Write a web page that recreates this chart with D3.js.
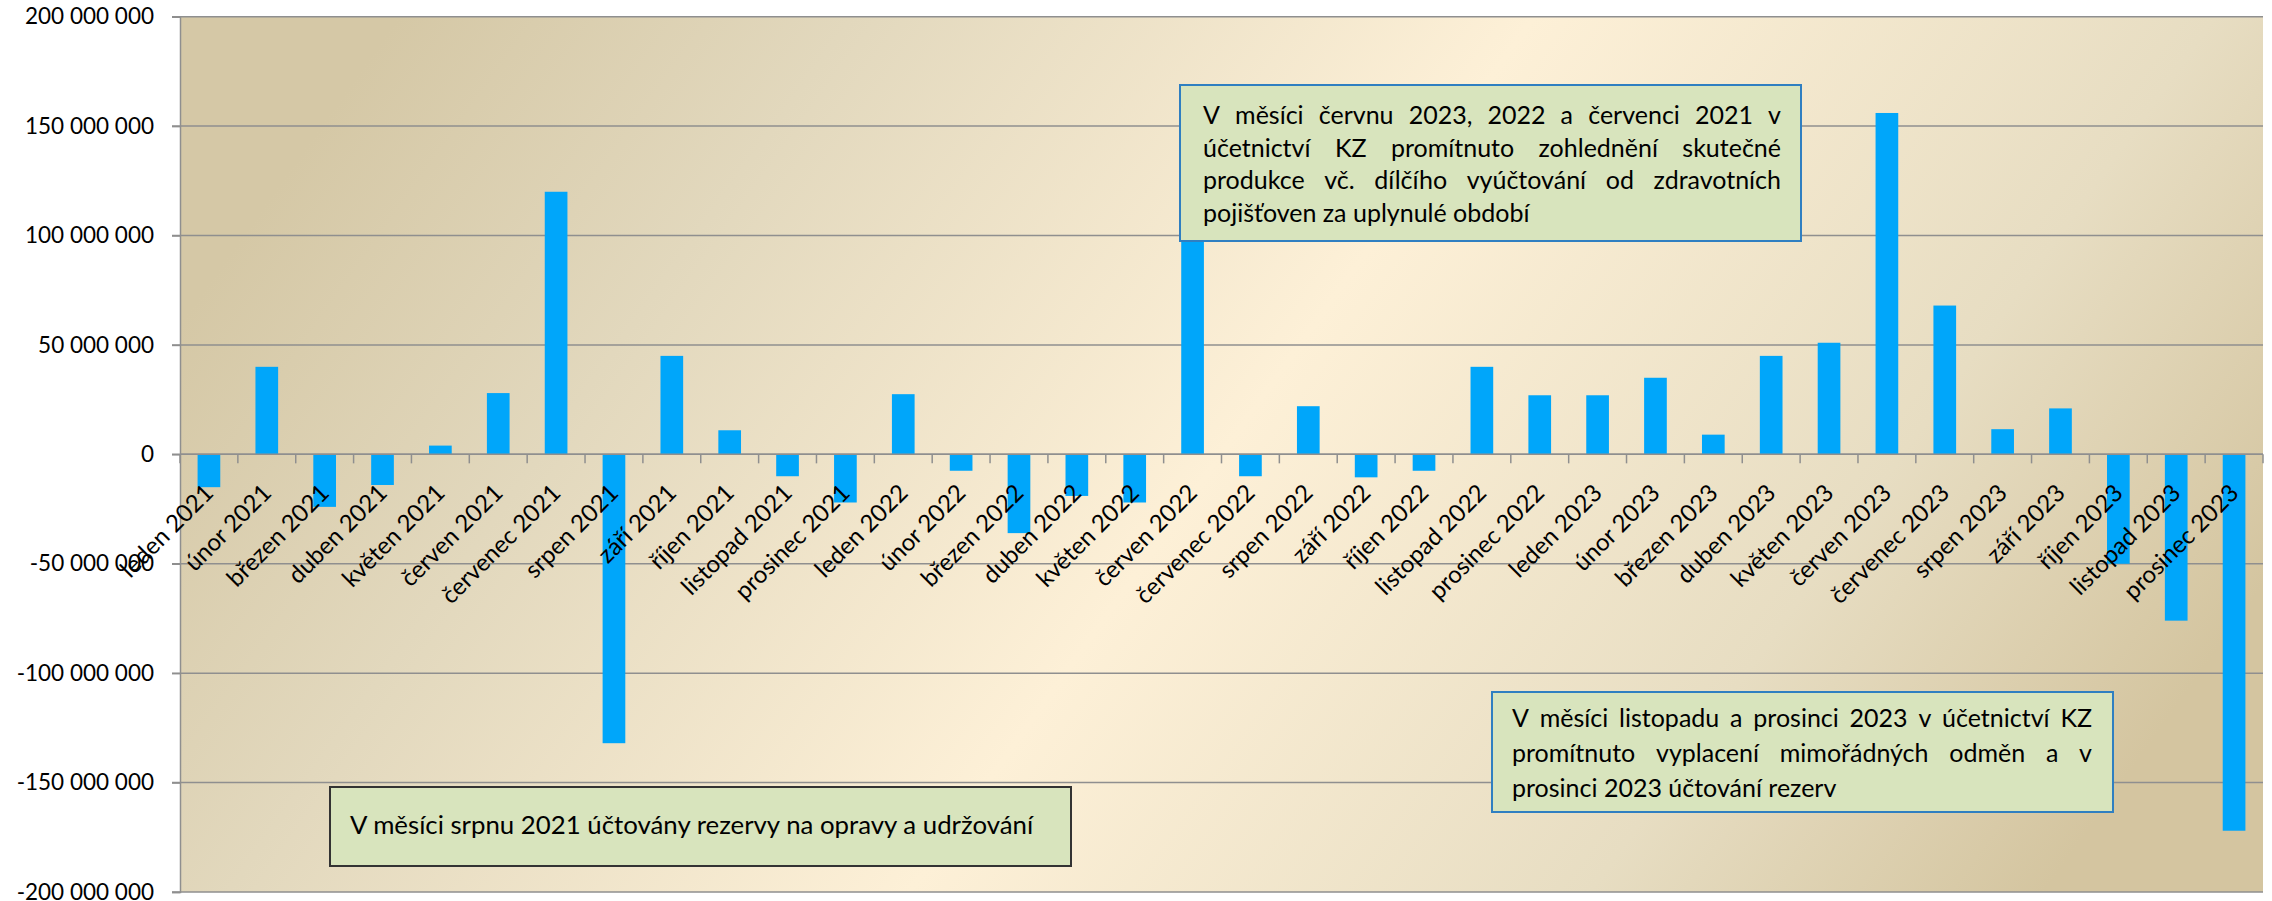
<!DOCTYPE html>
<html lang="cs">
  <head>
    <meta charset="UTF-8" />
    <title>měsíční výsledek hospodaření</title>
    <style>
      body { margin: 0; background: #fff; }
      svg text { font-family: Lato, "Noto Sans", sans-serif; fill: #000; }
    </style>
  </head>
  <body>
    <svg width="2272" height="901" xmlns="http://www.w3.org/2000/svg"></svg>
    <script src="https://cdn.jsdelivr.net/npm/d3@7/dist/d3.min.js"></script>
    <script>
      const categories = [
        "leden 2021", "únor 2021", "březen 2021", "duben 2021", "květen 2021", "červen 2021",
        "červenec 2021", "srpen 2021", "září 2021", "říjen 2021", "listopad 2021", "prosinec 2021",
        "leden 2022", "únor 2022", "březen 2022", "duben 2022", "květen 2022", "červen 2022",
        "červenec 2022", "srpen 2022", "září 2022", "říjen 2022", "listopad 2022", "prosinec 2022",
        "leden 2023", "únor 2023", "březen 2023", "duben 2023", "květen 2023", "červen 2023",
        "červenec 2023", "srpen 2023", "září 2023", "říjen 2023", "listopad 2023", "prosinec 2023"
      ];
      // v milionech Kč
      const values = [
        -15, 40, -24, -14, 4, 28, 120, -132, 45, 11, -10, -22,
        27.5, -7.5, -36, -19, -22, 130, -10, 22, -10.5, -7.5, 40, 27,
        27, 35, 9, 45, 51, 156, 68, 11.5, 21, -50, -76, -172
      ];
      const yTicks = [-200, -150, -100, -50, 0, 50, 100, 150, 200];

      const note1 = [
        "V měsíci červnu 2023, 2022 a červenci 2021 v",
        "účetnictví KZ promítnuto zohlednění skutečné",
        "produkce vč. dílčího vyúčtování od zdravotních",
        "pojišťoven za uplynulé období"
      ];
      const note2 = [
        "V měsíci listopadu a prosinci 2023 v účetnictví KZ",
        "promítnuto vyplacení mimořádných odměn a v",
        "prosinci 2023 účtování rezerv"
      ];
      const note3 = ["V měsíci srpnu 2021 účtovány rezervy na opravy a udržování"];

      const plotLeft = 180, plotRight = 2263, plotTop = 16.7, plotBottom = 892;
      const tickFont = 22.5, labelFont = 24, noteFont = 25;

      const svg = d3.select("svg");

      const defs = svg.append("defs");
      const grad = defs.append("linearGradient")
        .attr("id", "bg")
        .attr("x1", "0").attr("y1", "0.35")
        .attr("x2", "1").attr("y2", "0.65");
      [["0", "#d5c8a6"], ["0.2", "#e2d8bd"], ["0.5", "#fdf0d7"], ["0.8", "#e7ddc2"], ["1", "#d4c5a0"]]
        .forEach(([o, c]) => grad.append("stop").attr("offset", o).attr("stop-color", c));

      svg.append("rect")
        .attr("x", plotLeft).attr("y", plotTop)
        .attr("width", plotRight - plotLeft).attr("height", plotBottom - plotTop)
        .attr("fill", "url(#bg)");

      const x = d3.scaleBand().domain(categories).range([plotLeft, plotRight]).padding(0);
      const y = d3.scaleLinear().domain([-200, 200]).range([plotBottom, plotTop]);

      const locale = d3.formatLocale({ decimal: ",", thousands: " ", grouping: [3], currency: ["", " Kč"], minus: "-" });
      const fmt = locale.format(",");

      // mřížka
      svg.append("g")
        .selectAll("line")
        .data(yTicks)
        .join("line")
        .attr("x1", plotLeft - 8).attr("x2", plotRight)
        .attr("y1", d => y(d)).attr("y2", d => y(d))
        .attr("stroke", "#8f8f8f")
        .attr("stroke-width", 1.5);

      // osa y
      const yAxis = svg.append("g")
        .attr("transform", `translate(${plotLeft},0)`)
        .call(d3.axisLeft(y).tickValues(yTicks).tickFormat(d => fmt(d * 1e6)).tickSize(8).tickPadding(18));
      yAxis.select(".domain").attr("stroke", "#8f8f8f").attr("stroke-width", 1.5);
      yAxis.selectAll(".tick line").attr("stroke", "#8f8f8f").attr("stroke-width", 1.5);
      yAxis.selectAll("text").attr("font-size", tickFont).attr("font-family", "Lato, 'Noto Sans', sans-serif");

      // sloupce
      const barW = x.bandwidth() * 0.392;
      svg.append("g")
        .selectAll("rect")
        .data(values)
        .join("rect")
        .attr("x", (d, i) => x(categories[i]) + (x.bandwidth() - barW) / 2)
        .attr("y", d => y(Math.max(0, d)))
        .attr("width", barW)
        .attr("height", d => Math.abs(y(d) - y(0)))
        .attr("fill", "#00a6fa");

      // osa x v nule
      const xg = svg.append("g");
      xg.append("line")
        .attr("x1", plotLeft).attr("x2", plotRight)
        .attr("y1", y(0)).attr("y2", y(0))
        .attr("stroke", "#8f8f8f").attr("stroke-width", 1.5);
      const bounds = categories.map(c => x(c)).concat([plotRight]);
      xg.selectAll(".tk")
        .data(bounds)
        .join("line")
        .attr("class", "tk")
        .attr("x1", d => d).attr("x2", d => d)
        .attr("y1", y(0)).attr("y2", y(0) + 9)
        .attr("stroke", "#8f8f8f").attr("stroke-width", 1.5);

      xg.selectAll(".lbl")
        .data(categories)
        .join("text")
        .attr("class", "lbl")
        .attr("font-size", labelFont)
        .attr("text-anchor", "end")
        .attr("transform", d => `translate(${x(d) + x.bandwidth() / 2 + 6},${y(0) + 40}) rotate(-45)`)
        .text(d => d);

      // poznámky
      function drawNote(box, lines, tx, ty, lh, tw, justify, stroke, size) {
        const g = svg.append("g");
        g.append("rect")
          .attr("x", box[0]).attr("y", box[1])
          .attr("width", box[2] - box[0]).attr("height", box[3] - box[1])
          .attr("fill", "#d8e4bd")
          .attr("stroke", stroke)
          .attr("stroke-width", 2);
        lines.forEach((line, i) => {
          const yy = ty + i * lh;
          if (!justify || i === lines.length - 1) {
            g.append("text").attr("x", tx).attr("y", yy).attr("font-size", size).text(line);
            return;
          }
          const words = line.split(" ");
          const nodes = words.map(w => g.append("text").attr("y", yy).attr("font-size", size).text(w));
          const widths = nodes.map(n => n.node().getComputedTextLength());
          const gap = (tw - d3.sum(widths)) / (words.length - 1);
          let cx = tx;
          nodes.forEach((n, j) => {
            n.attr("x", cx);
            cx += widths[j] + gap;
          });
        });
      }

      drawNote([1180, 85, 1801, 241], note1, 1203, 124, 32.7, 578, true, "#2f7fc1", noteFont);
      drawNote([1492, 692, 2113, 812], note2, 1512, 727, 35, 580, true, "#2f7fc1", noteFont);
      drawNote([330, 787, 1071, 866], note3, 350, 834, 0, 683, false, "#333", 25.8);
    </script>
  </body>
</html>
